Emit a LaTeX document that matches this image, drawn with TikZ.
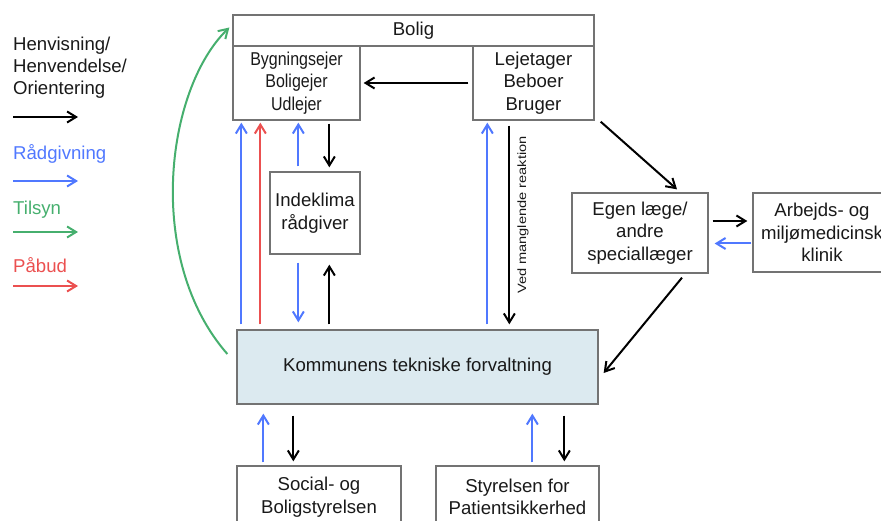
\documentclass[tikz,border=0pt]{standalone}
\usepackage{fontspec}
\setmainfont{Liberation Sans}
\usetikzlibrary{arrows.meta,calc}
\definecolor{myblue}{RGB}{80,120,255}
\definecolor{myred}{RGB}{235,80,80}
\definecolor{mygreen}{RGB}{70,175,110}
\definecolor{boxline}{RGB}{115,115,115}
\definecolor{kfill}{RGB}{220,234,240}
\definecolor{txt}{RGB}{25,25,25}
\begin{document}
\begin{tikzpicture}[x=1pt,y=-1pt,
  box/.style={draw=boxline,line width=1.3pt,align=center,inner sep=0pt,
    font=\fontsize{18.6}{22.5}\selectfont,text=txt},
  arr/.style={line width=2pt,-{Straight Barb[length=9pt,width=11pt]}},
  blk/.style={arr,black},
  blu/.style={arr,myblue},
  grn/.style={arr,mygreen},
  rd/.style={arr,myred},
  lbl/.style={font=\fontsize{18.6}{22.2}\selectfont,anchor=base west,inner sep=0pt,align=left}]
\useasboundingbox (0,0) rectangle (881,521);

% boxes
\node[box,minimum width=361pt,minimum height=31pt] (bolig) at (413.5,30.5) {Bolig};
\node[box,minimum width=127pt,minimum height=74pt] (byg) at (296.5,83)
  {\scalebox{0.86}[1]{Bygningsejer}\\\scalebox{0.86}[1]{Boligejer}\\\scalebox{0.86}[1]{Udlejer}};
\node[box,minimum width=121pt,minimum height=74pt] (lej) at (533.5,83) {Lejetager\\Beboer\\Bruger};
\node[box,minimum width=90pt,minimum height=82pt] (indek) at (315,213) {Indeklima\\rådgiver};
\node[box,fill=kfill,minimum width=361pt,minimum height=74pt] (komm) at (417.5,367) {Kommunens tekniske forvaltning};
\node[box,minimum width=136pt,minimum height=80pt] (egen) at (640,233) {Egen læge/\\andre\\speciallæger};
\node[box,minimum width=138pt,minimum height=79pt] (arb) at (822,232.5) {Arbejds- og\\miljømedicinsk\\klinik};
\node[box,minimum width=164pt,minimum height=62pt] (soc) at (319,497) {Social- og\\Boligstyrelsen};
\node[box,minimum width=163pt,minimum height=62pt] (styr) at (517.5,497) {Styrelsen for\\Patientsikkerhed};

\node[rotate=90,inner sep=0pt,text=txt] (ved) at (523,215)
  {\scalebox{1.22}[1]{\fontsize{12}{13}\selectfont Ved manglende reaktion}};

% arrows in Bolig
\draw[blk,shorten <=4pt,shorten >=3pt] (lej.west) -- (byg.west -| byg.east);

% komm -> byg
\draw[blu,shorten <=5pt,shorten >=2pt] ([xshift=9pt]byg.south west |- komm.north) -- ([xshift=9pt]byg.south west);
\draw[rd,shorten <=5pt,shorten >=2pt] ([xshift=28pt]byg.south west |- komm.north) -- ([xshift=28pt]byg.south west);
% indek <-> byg
\draw[blu,shorten <=5pt,shorten >=2pt] ([xshift=66pt]byg.south west |- indek.north) -- ([xshift=66pt]byg.south west);
\draw[blk,shorten <=3pt,shorten >=4pt] ([xshift=97pt]byg.south west) -- ([xshift=97pt]byg.south west |- indek.north);
% indek <-> komm
\draw[blu,shorten <=8pt,shorten >=7pt] ([xshift=66pt]byg.south west |- indek.south) -- ([xshift=66pt]byg.south west |- komm.north);
\draw[blk,shorten <=5pt,shorten >=10pt] ([xshift=97pt]byg.south west |- komm.north) -- ([xshift=97pt]byg.south west |- indek.south);
% komm <-> lej
\draw[blu,shorten <=5pt,shorten >=2pt] ([xshift=15pt]lej.south west |- komm.north) -- ([xshift=15pt]lej.south west);
\draw[blk,shorten <=5pt,shorten >=5pt] ([xshift=37pt]lej.south west) -- ([xshift=37pt]lej.south west |- komm.north);

% lej -> egen
\draw[blk] ([shift={(6pt,-1pt)}]lej.south east) -- ([xshift=37pt,yshift=3pt]egen.north);
% egen <-> arb
\draw[blk,shorten <=4pt,shorten >=5pt] ([yshift=12pt]egen.east) -- ([yshift=12pt]egen.east -| arb.west);
\draw[blu,shorten <=1pt,shorten >=6pt] ([yshift=-11pt]arb.west) -- ([yshift=-11pt]arb.west -| egen.east);
% egen -> komm
\draw[blk] ([xshift=42pt,yshift=-4pt]egen.south) -- ([xshift=5pt,yshift=-6pt]komm.east);

% komm <-> soc / styr
\draw[blu,shorten <=3pt,shorten >=9pt] ([xshift=27pt]soc.north west) -- ([xshift=27pt]soc.north west |- komm.south);
\draw[blk,shorten <=11pt,shorten >=4pt] ([xshift=57pt]soc.north west |- komm.south) -- ([xshift=57pt]soc.north west);
\draw[blu,shorten <=3pt,shorten >=9pt] ([xshift=97pt]styr.north west) -- ([xshift=97pt]styr.north west |- komm.south);
\draw[blk,shorten <=11pt,shorten >=4pt] ([xshift=129pt]styr.north west |- komm.south) -- ([xshift=129pt]styr.north west);

% green supervision curve
\draw[grn] ([xshift=-9pt,yshift=13pt]komm.west) .. controls (145,260) and (165,90) .. ([xshift=-3pt,yshift=3pt]bolig.west);

% legend
\node[lbl,text=txt] (l1) at (13,95) {Henvisning/\\Henvendelse/\\Orientering};
\coordinate (a1s) at (13,117); \coordinate (a1e) at (78,117);
\draw[blk] (a1s) -- (a1e);
\node[lbl,text=myblue] (l2) at (13,160) {Rådgivning};
\coordinate (a2s) at (13,181); \coordinate (a2e) at (78,181);
\draw[blu] (a2s) -- (a2e);
\node[lbl,text=mygreen] (l3) at (13,215) {Tilsyn};
\coordinate (a3s) at (13,232); \coordinate (a3e) at (78,232);
\draw[grn] (a3s) -- (a3e);
\node[lbl,text=myred] (l4) at (13,273) {Påbud};
\coordinate (a4s) at (13,286); \coordinate (a4e) at (78,286);
\draw[rd] (a4s) -- (a4e);
\end{tikzpicture}
\end{document}
